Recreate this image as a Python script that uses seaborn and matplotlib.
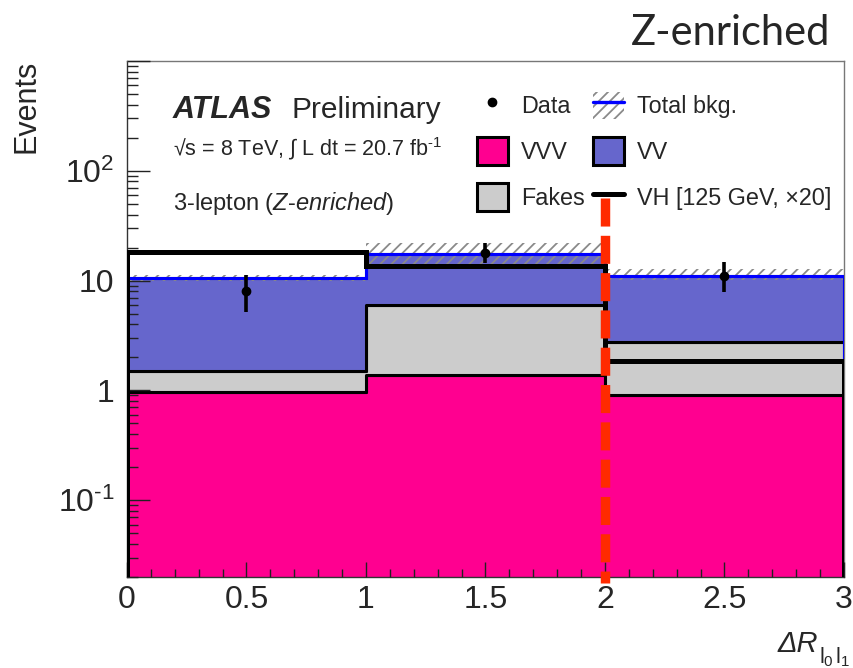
import numpy as np
import pandas as pd
import matplotlib
matplotlib.use("Agg")
import matplotlib.pyplot as plt
import seaborn as sns
from matplotlib.patches import Patch
from matplotlib.lines import Line2D
from matplotlib.legend_handler import HandlerTuple
from matplotlib.ticker import FixedLocator, LogLocator, FuncFormatter, MultipleLocator

# ---------------- data ----------------
bin_edges = [0.0, 1.0, 2.0, 3.0]
bin_centers = [0.5, 1.5, 2.5]
vvv = [0.97, 1.37, 0.91]
fakes = [0.53, 4.59, 1.85]
vv = [9.10, 11.54, 8.24]
bkg_unc_lo = [10.0, 14.3, 10.1]
bkg_unc_hi = [11.2, 21.8, 12.8]
vh_x20 = [18.3, 13.6, 1.85]
data = [8, 18, 11]
data_err_lo = [2.8, 3.5, 3.1]
data_err_hi = [3.2, 4.0, 3.8]
cut_value = 2.0
x_ticks = [0, 0.5, 1, 1.5, 2, 2.5, 3]
y_tick_labels = {0.1: "$10^{\u20101}$", 1: "1", 10: "10", 100: r"$10^{2}$"}

col_vvv = "#ff0090"
col_fakes = "#cccccc"
col_vv = "#6666cc"

# ---------------- style ----------------
sns.set_style("white")
plt.rcParams["font.family"] = ["Liberation Sans", "DejaVu Sans"]
plt.rcParams["mathtext.fontset"] = "custom"
plt.rcParams["mathtext.rm"] = "Liberation Sans"
plt.rcParams["mathtext.it"] = "Liberation Sans:italic"
plt.rcParams["mathtext.bf"] = "Liberation Sans:bold"
plt.rcParams["mathtext.sf"] = "Liberation Sans"
plt.rcParams["hatch.linewidth"] = 1.3

W, H = 854, 668
fig = plt.figure(figsize=(W / 100, H / 100), dpi=100)
ax = fig.add_axes([127 / W, 1 - 577 / H, (844 - 127) / W, (577 - 61) / H])
ax.set_yscale("log")

# stacked background via seaborn
df = pd.DataFrame({
    "x": bin_centers * 3,
    "w": vv + fakes + vvv,
    "process": ["VV"] * 3 + ["Fakes"] * 3 + ["VVV"] * 3,
})
sns.histplot(data=df, x="x", weights="w", hue="process",
             hue_order=["VV", "Fakes", "VVV"], multiple="stack",
             bins=bin_edges, element="step", fill=True, alpha=1,
             palette={"VVV": col_vvv, "Fakes": col_fakes, "VV": col_vv},
             edgecolor="black", linewidth=2.2, legend=False, ax=ax)

total = [a + b + c for a, b, c in zip(vvv, fakes, vv)]

# uncertainty band
ax.fill_between(bin_edges, bkg_unc_lo + [bkg_unc_lo[-1]], bkg_unc_hi + [bkg_unc_hi[-1]],
                step="post", facecolor="none", edgecolor="#8a8a8a", hatch="///",
                linewidth=0, zorder=5)
ax.stairs(total, bin_edges, color="#0000ff", lw=2.2, zorder=6)
ax.stairs(vh_x20, bin_edges, color="black", lw=3.6, zorder=7)

ax.errorbar(bin_centers, data, yerr=[data_err_lo, data_err_hi], fmt="o",
            color="black", ms=6, elinewidth=2.6, capsize=0, zorder=8)

# cut line
ax.plot([cut_value, cut_value], [56.5, 0.0176], color="#ff2a00", lw=6.8,
        dashes=(2.97, 0.98), dash_capstyle="butt", clip_on=False, zorder=10)

ax.set_xlim(0, 3)
ax.set_ylim(0.02, 1000)
ax.set_xlabel("")
ax.set_ylabel("")
ax.set_axisbelow(False)

ax.xaxis.set_major_locator(FixedLocator(x_ticks))
ax.xaxis.set_minor_locator(MultipleLocator(0.1))
ax.xaxis.set_major_formatter(FuncFormatter(lambda v, p: f"{v:g}"))
ax.yaxis.set_major_locator(FixedLocator([0.1, 1, 10, 100, 1000]))
ax.yaxis.set_minor_locator(LogLocator(base=10, subs=np.arange(2, 10)))
ax.yaxis.set_major_formatter(FuncFormatter(lambda v, p: y_tick_labels.get(round(v, 3), "")))
ax.yaxis.set_minor_formatter(FuncFormatter(lambda v, p: ""))

ax.tick_params(which="both", bottom=True, left=True, top=False, right=False)
ax.xaxis.set_tick_params(which="major", direction="in", length=10.8, width=1,
                         color="#222222", labelsize=23, pad=6)
ax.xaxis.set_tick_params(which="minor", direction="in", length=5.8, width=1, color="#222222")
ax.yaxis.set_tick_params(which="major", direction="in", length=16.5, width=1,
                         color="#222222", labelsize=23, pad=9)
ax.yaxis.set_tick_params(which="minor", direction="in", length=7.6, width=1, color="#222222")
for s in ["left", "bottom"]:
    ax.spines[s].set_color("#333333")
    ax.spines[s].set_linewidth(1.0)
for s in ["top", "right"]:
    ax.spines[s].set_color("#777777")
    ax.spines[s].set_linewidth(1.0)

# legend
h_data = Line2D([], [], marker="o", color="black", ls="none", ms=6)
h_tot = (Patch(facecolor="white", edgecolor="#8a8a8a", hatch="///", lw=0),
         Line2D([], [], color="#0000ff", lw=2.4))
h_vvv = Patch(facecolor=col_vvv, edgecolor="black", lw=2.2)
h_vv = Patch(facecolor=col_vv, edgecolor="black", lw=2.2)
h_fakes = Patch(facecolor=col_fakes, edgecolor="black", lw=2.2)
h_vh = Line2D([], [], color="black", lw=3.6)
leg = ax.legend([h_data, h_vvv, h_fakes, h_tot, h_vv, h_vh],
                ["Data", "VVV", "Fakes", "Total bkg.", "VV", "VH [125 GeV, \u00d720]"],
                ncol=2, loc="upper left", bbox_to_anchor=(477 / W, 1 - 91.5 / H),
                bbox_transform=fig.transFigure, frameon=False, fontsize=16.8,
                handlelength=1.32, handleheight=1.42, labelspacing=0.8,
                handletextpad=0.56, columnspacing=0.35, borderpad=0, borderaxespad=0,
                handler_map={tuple: HandlerTuple(ndivide=1)})
leg.set_zorder(20)

# texts
fig.text(173 / W, 1 - 118 / H, "ATLAS", fontsize=22, fontweight="bold",
         fontstyle="italic", va="baseline")
fig.text(292 / W, 1 - 118 / H, "Preliminary", fontsize=21.5, va="baseline")
fig.text(173 / W, 1 - 155 / H, "\u221as = 8 TeV, \u222b L dt = 20.7 fb$^{\u20101}$",
         fontsize=15.5, va="baseline")
fig.text(173 / W, 1 - 210 / H, "3-lepton ($\\mathit{Z}$-$\\mathit{enriched}$)",
         fontsize=17, va="baseline")
fig.text(830 / W, 1 - 45 / H, "Z-enriched", family=["Lato", "DejaVu Sans"],
         fontsize=30, ha="right", va="baseline")
fig.text(27 / W, 1 - 60 / H, "Events", rotation=90, ha="center", va="top", fontsize=22)
fig.text(778 / W, 1 - 652 / H, "\u0394R", fontstyle="italic",
         ha="left", va="baseline", fontsize=21)
fig.text(819 / W, 1 - 663 / H, r"$\mathrm{l}_{0}\,\mathrm{l}_{1}$",
         ha="left", va="baseline", fontsize=15.5)

fig.savefig("out.png", dpi=100)
